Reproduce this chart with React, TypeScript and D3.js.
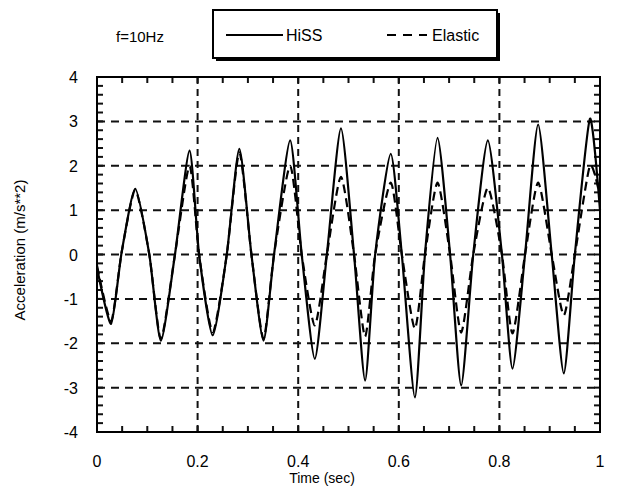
import { useEffect, useRef } from 'react';
import * as d3 from 'd3';

// time (sec) of the traced points, shared by both series
const times = [
  0.0, 0.028, 0.049, 0.076, 0.104, 0.127, 0.155, 0.184, 0.203, 0.23, 0.258, 0.283, 0.307, 0.331,
  0.352, 0.384, 0.407, 0.433, 0.457, 0.485, 0.511, 0.533, 0.553, 0.584, 0.606, 0.632, 0.652,
  0.677, 0.702, 0.724, 0.748, 0.777, 0.805, 0.826, 0.851, 0.877, 0.904, 0.928, 0.95, 0.98, 1.0,
];

const hiss = [
  -0.3, -1.56, 0.05, 1.48, 0.0, -1.94, 0.0, 2.34, 0.0, -1.82, 0.0, 2.38, 0.0, -1.94,
  0.0, 2.57, 0.0, -2.35, 0.0, 2.84, 0.0, -2.84, 0.0, 2.27, 0.0, -3.22, 0.0,
  2.63, 0.0, -2.95, 0.0, 2.57, 0.0, -2.57, 0.0, 2.93, 0.0, -2.68, 0.0, 3.06, 1.0,
];

const elastic = [
  -0.25, -1.5, 0.05, 1.45, 0.0, -1.9, 0.0, 2.0, 0.0, -1.75, 0.0, 2.3, 0.0, -1.9,
  0.0, 2.0, 0.0, -1.6, 0.0, 1.75, 0.0, -1.85, 0.0, 1.62, 0.0, -1.67, 0.0,
  1.62, 0.0, -1.76, 0.0, 1.5, 0.0, -1.78, 0.0, 1.62, 0.0, -1.37, 0.0, 2.0, 1.3,
];

const xTicks = [0, 0.2, 0.4, 0.6, 0.8, 1];
const yTicks = [-4, -3, -2, -1, 0, 1, 2, 3, 4];

const FONT = '"Liberation Sans", Arial, sans-serif';

export default function App() {
  const svgRef = useRef<SVGSVGElement>(null);

  useEffect(() => {
    if (!svgRef.current) return;
    const svg = d3.select(svgRef.current);
    svg.selectAll('*').remove();

    const left = 97;
    const right = 600;
    const top = 77;
    const bottom = 432;

    const x = d3.scaleLinear().domain([0, 1]).range([left, right]);
    const y = d3.scaleLinear().domain([-4, 4]).range([bottom, top]);

    // dashed grid
    svg.append('g')
      .selectAll('line')
      .data(yTicks.filter((v) => v > -4 && v < 4))
      .join('line')
      .attr('x1', left)
      .attr('x2', right)
      .attr('y1', (d) => y(d))
      .attr('y2', (d) => y(d))
      .attr('stroke', '#111')
      .attr('stroke-width', 2)
      .attr('stroke-dasharray', '8,6');

    svg.append('g')
      .selectAll('line')
      .data(xTicks.filter((v) => v > 0 && v < 1))
      .join('line')
      .attr('x1', (d) => x(d))
      .attr('x2', (d) => x(d))
      .attr('y1', top)
      .attr('y2', bottom)
      .attr('stroke', '#111')
      .attr('stroke-width', 2)
      .attr('stroke-dasharray', '7,5');

    // minor ticks, inward on all four sides
    const xMinor = d3.range(0, 1.0001, 0.05);
    const yMinor = d3.range(-4, 4.0001, 0.2);
    const tk = svg.append('g').attr('stroke', '#111').attr('stroke-width', 2);
    xMinor.forEach((t) => {
      tk.append('line').attr('x1', x(t)).attr('x2', x(t)).attr('y1', top).attr('y2', top + 6);
      tk.append('line').attr('x1', x(t)).attr('x2', x(t)).attr('y1', bottom).attr('y2', bottom - 6);
    });
    yMinor.forEach((v) => {
      tk.append('line').attr('x1', left).attr('x2', left + 6).attr('y1', y(v)).attr('y2', y(v));
      tk.append('line').attr('x1', right).attr('x2', right - 6).attr('y1', y(v)).attr('y2', y(v));
    });

    const pts = times.map((t, i) => ({ t, h: hiss[i], e: elastic[i] }));

    const lineH = d3.line<(typeof pts)[number]>()
      .x((d) => x(d.t))
      .y((d) => y(d.h))
      .curve(d3.curveCardinal.tension(0.35));
    const lineE = d3.line<(typeof pts)[number]>()
      .x((d) => x(d.t))
      .y((d) => y(d.e))
      .curve(d3.curveCardinal.tension(0.35));

    svg.append('path')
      .datum(pts)
      .attr('d', lineE)
      .attr('fill', 'none')
      .attr('stroke', '#000')
      .attr('stroke-width', 2.2)
      .attr('stroke-dasharray', '9,5');

    svg.append('path')
      .datum(pts)
      .attr('d', lineH)
      .attr('fill', 'none')
      .attr('stroke', '#000')
      .attr('stroke-width', 2.2);

    // frame
    svg.append('rect')
      .attr('x', left)
      .attr('y', top)
      .attr('width', right - left)
      .attr('height', bottom - top)
      .attr('fill', 'none')
      .attr('stroke', '#000')
      .attr('stroke-width', 2);

    // tick labels
    svg.append('g')
      .selectAll('text')
      .data(xTicks)
      .join('text')
      .attr('x', (d) => x(d))
      .attr('y', 467)
      .attr('text-anchor', 'middle')
      .attr('font-family', FONT)
      .attr('font-size', 16)
      .text((d) => String(d));

    svg.append('g')
      .selectAll('text')
      .data(yTicks)
      .join('text')
      .attr('x', 78)
      .attr('y', (d) => y(d) + 6)
      .attr('text-anchor', 'end')
      .attr('font-family', FONT)
      .attr('font-size', 16)
      .text((d) => String(d));

    // axis titles
    svg.append('text')
      .attr('x', 322)
      .attr('y', 483)
      .attr('text-anchor', 'middle')
      .attr('font-family', FONT)
      .attr('font-size', 14)
      .text('Time (sec)');

    svg.append('text')
      .attr('transform', 'translate(25,250) rotate(-90)')
      .attr('text-anchor', 'middle')
      .attr('font-family', FONT)
      .attr('font-size', 15)
      .text('Acceleration (m/s**2)');

    svg.append('text')
      .attr('x', 116)
      .attr('y', 42)
      .attr('font-family', FONT)
      .attr('font-size', 15)
      .text('f=10Hz');

    // legend box with shadow
    const lg = svg.append('g');
    lg.append('rect')
      .attr('x', 216).attr('y', 13).attr('width', 284).attr('height', 48)
      .attr('fill', '#000');
    lg.append('rect')
      .attr('x', 213).attr('y', 10).attr('width', 284).attr('height', 48)
      .attr('fill', '#fff').attr('stroke', '#000').attr('stroke-width', 2);
    lg.append('line')
      .attr('x1', 226).attr('x2', 283).attr('y1', 35).attr('y2', 35)
      .attr('stroke', '#000').attr('stroke-width', 2);
    lg.append('text')
      .attr('x', 286).attr('y', 41)
      .attr('font-family', FONT).attr('font-size', 16)
      .text('HiSS');
    lg.append('line')
      .attr('x1', 387).attr('x2', 427).attr('y1', 35).attr('y2', 35)
      .attr('stroke', '#000').attr('stroke-width', 2).attr('stroke-dasharray', '9,7');
    lg.append('text')
      .attr('x', 432).attr('y', 41)
      .attr('font-family', FONT).attr('font-size', 16)
      .text('Elastic');
  }, []);

  return (
    <svg
      ref={svgRef}
      width={618}
      height={486}
      style={{ position: 'absolute', left: 0, top: 0, background: '#fff' }}
    />
  );
}
